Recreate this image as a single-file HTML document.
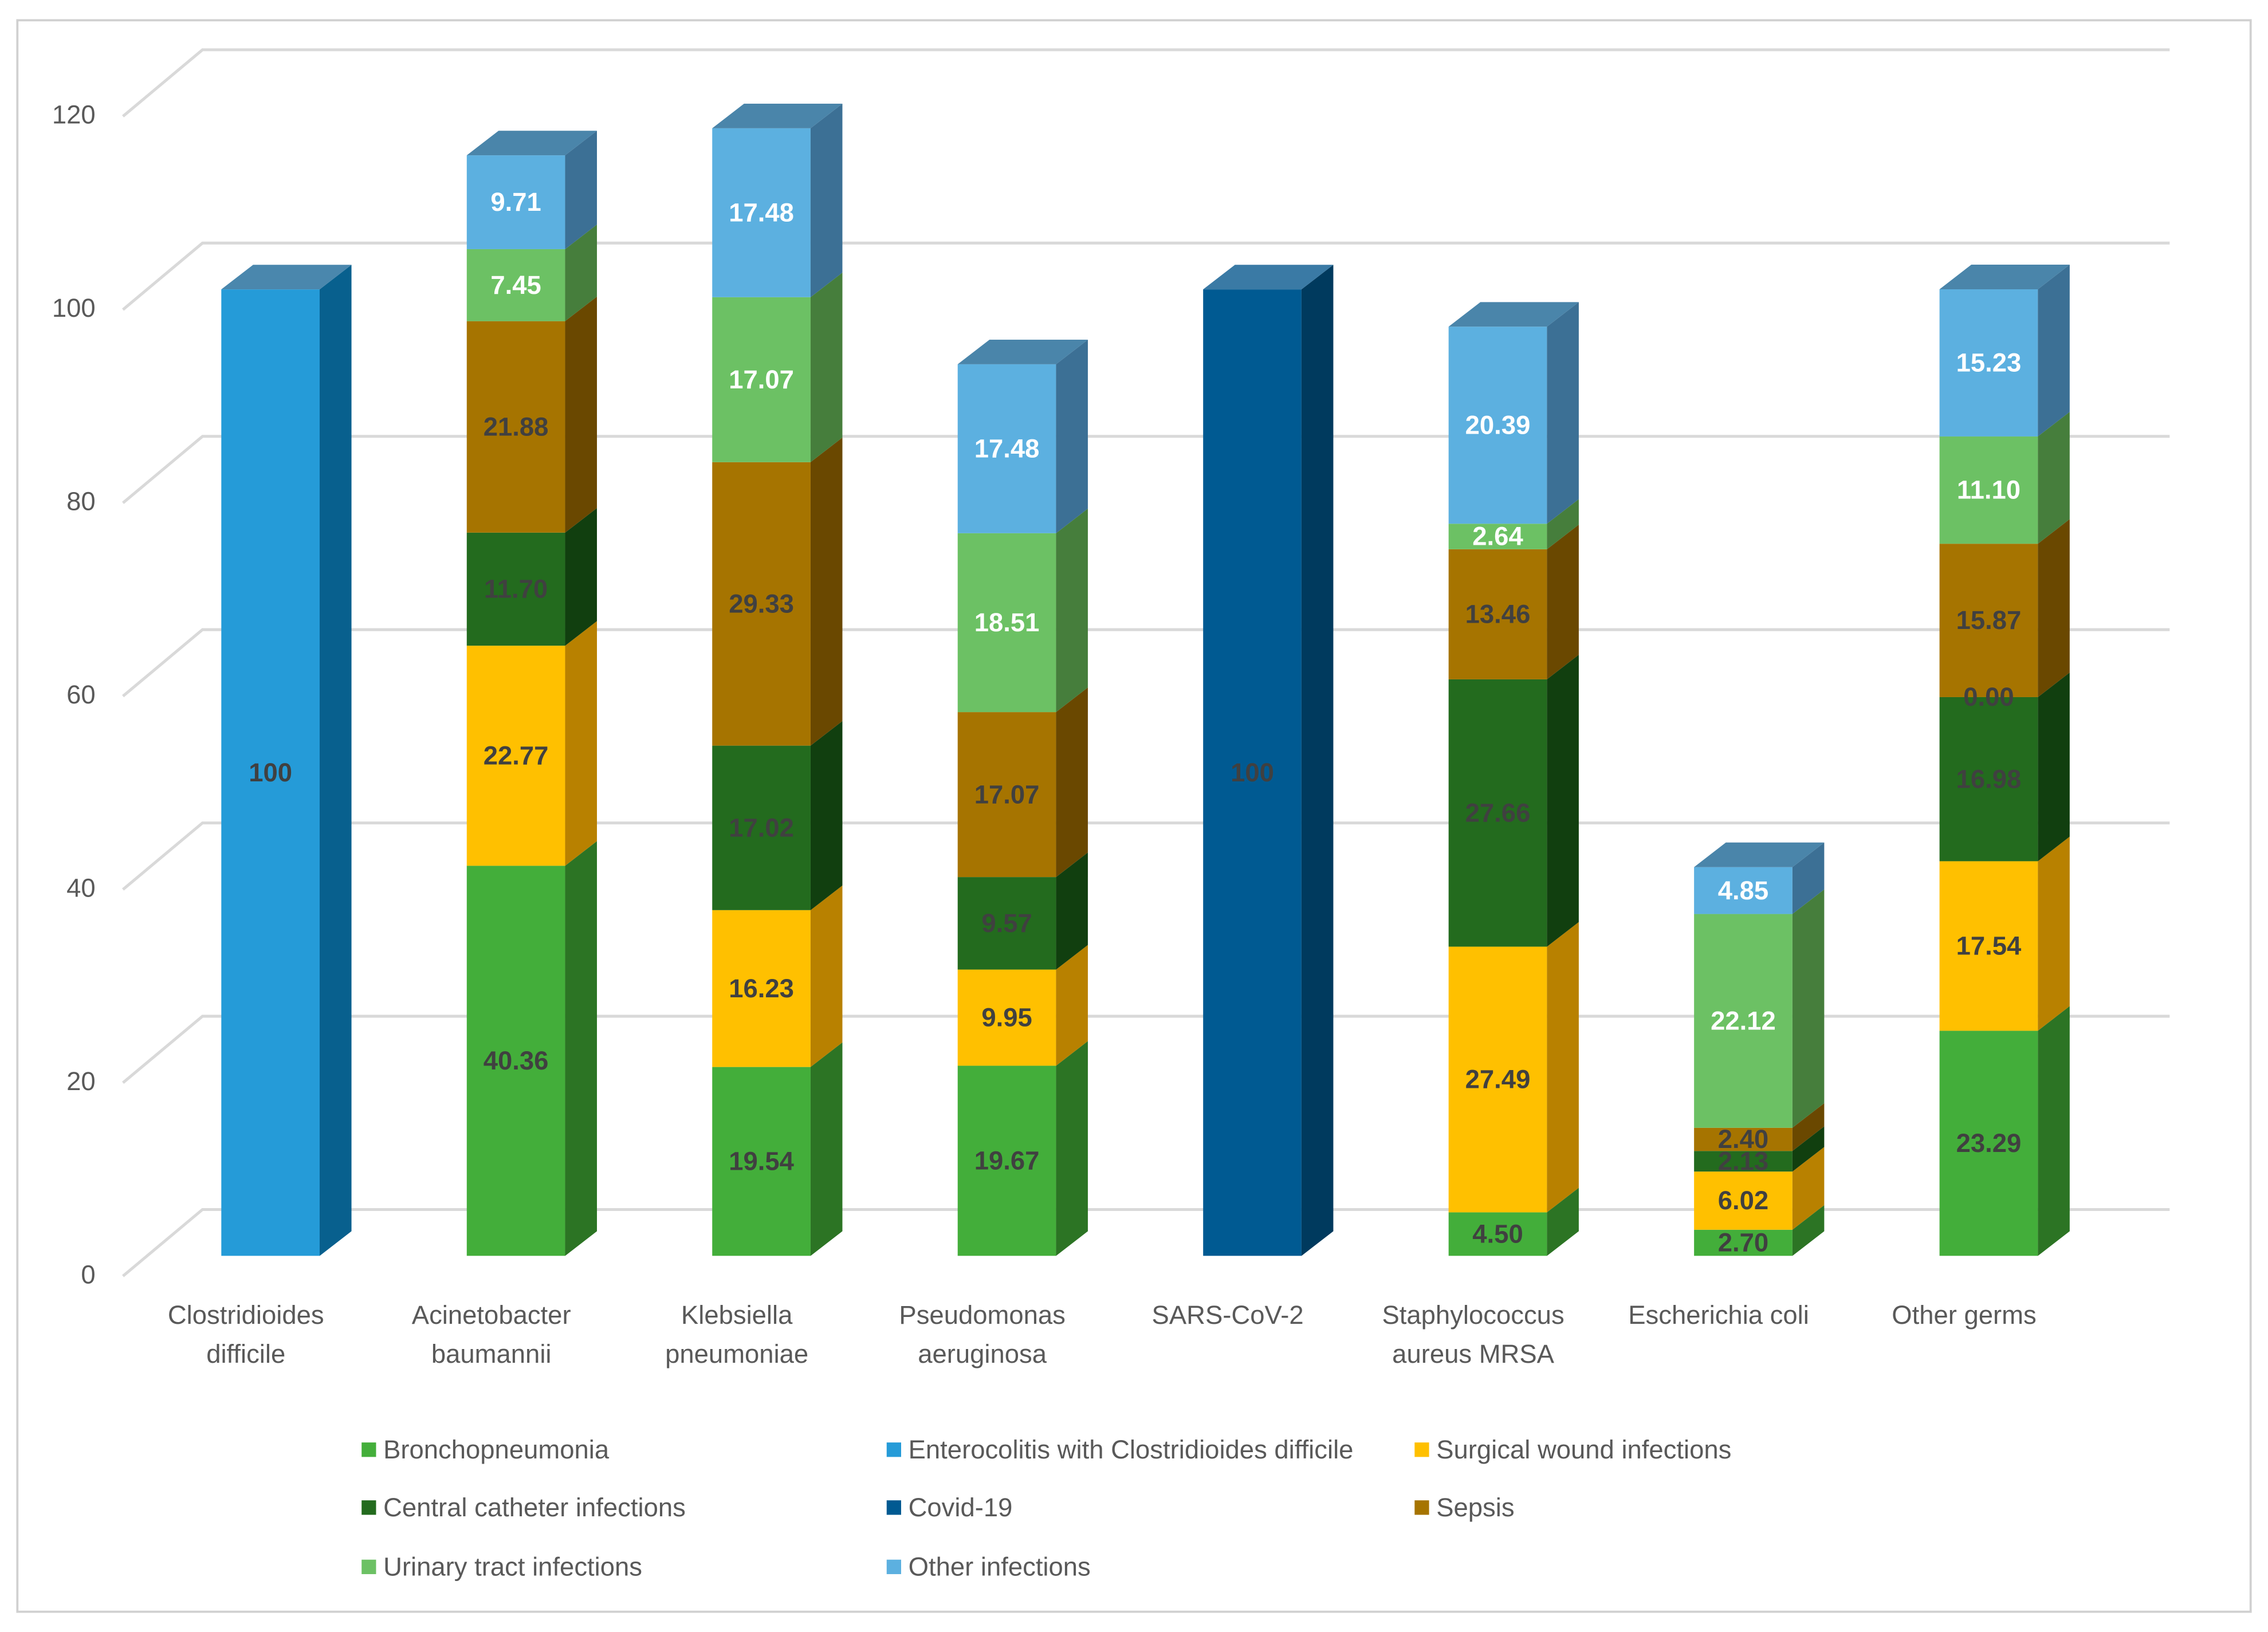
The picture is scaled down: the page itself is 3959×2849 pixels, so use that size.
<!DOCTYPE html>
<html><head><meta charset="utf-8"><style>
html,body{margin:0;padding:0;background:#fff;}
svg{display:block;}
text{font-family:"Liberation Sans",sans-serif;}
</style></head><body>
<svg id="chart" width="3959" height="2849" viewBox="0 0 1568 1128" preserveAspectRatio="none" xmlns="http://www.w3.org/2000/svg">
<rect x="12" y="14" width="1544" height="1100" fill="#fff" stroke="#d0d0d0" stroke-width="1.5"/>
<g id="grid"></g><g id="bars"></g><g id="cats"></g><g id="legend"></g>
</svg>
<script>
const categories = [["Clostridioides","difficile"],["Acinetobacter","baumannii"],["Klebsiella","pneumoniae"],["Pseudomonas","aeruginosa"],["SARS-CoV-2"],["Staphylococcus","aureus MRSA"],["Escherichia coli"],["Other germs"]];
const seriesNames = ["Bronchopneumonia","Enterocolitis with Clostridioides difficile","Surgical wound infections","Central catheter infections","Covid-19","Sepsis","Urinary tract infections","Other infections"];
const bronchopneumonia = [null,40.36,19.54,19.67,null,4.50,2.70,23.29];
const enterocolitis = [100,null,null,null,null,null,null,null];
const surgical = [null,22.77,16.23,9.95,null,27.49,6.02,17.54];
const catheter = [null,11.70,17.02,9.57,null,27.66,2.13,16.98];
const covid = [null,null,null,null,100,null,null,0];
const sepsis = [null,21.88,29.33,17.07,null,13.46,2.40,15.87];
const urinary = [null,7.45,17.07,18.51,null,2.64,22.12,11.10];
const otherInf = [null,9.71,17.48,17.48,null,20.39,4.85,15.23];
const yTicks = [0,20,40,60,80,100,120];

const series=[bronchopneumonia,enterocolitis,surgical,catheter,covid,sepsis,urinary,otherInf];
const front=["#43AE3A","#259BD8","#FFC000","#236B1E","#005A92","#A67400","#6CC164","#5CB0E0"];
const side =["#2C7424","#08608E","#B88100","#113F0F","#003A5E","#6A4800","#467E3C","#3C7095"];
const topc =["#5DAA54","#4A87AD","#CCA030","#2E5A2A","#3A7AA5","#8A6A30","#6AA060","#4A85AA"];
const lblc =["#404040","#404040","#404040","#404040","#404040","#404040","#ffffff","#ffffff"];
const NS="http://www.w3.org/2000/svg";
const base=868, ppu=6.68, dx=22, dy=17, bw=68;
const yF=v=>base-v*ppu;
const xL=i=>153+169.7*i;
function mk(t,a,p){const e=document.createElementNS(NS,t);for(const k in a)e.setAttribute(k,a[k]);p.appendChild(e);return e;}
const grid=document.getElementById('grid');
yTicks.forEach(v=>{
  const yb=836-v*ppu;
  const g=mk('g',{},grid);
  
  
  mk('polyline',{points:`85,${yb+46} 140,${yb} 1500,${yb}`,fill:'none',stroke:'#d9d9d9','stroke-width':2},g);
  const t=mk('text',{x:66,y:yb+51,'text-anchor':'end','font-size':18,fill:'#595959'},g);
  
  
  t.textContent=v;
});
const bars=document.getElementById('bars');
categories.forEach((c,i)=>{
  let cum=0; const x=xL(i);
  const g=mk('g',{},bars);
  
  
  let lastTop=null,lastS=0;
  const labels=[];
  series.forEach((s,si)=>{
    const v=s[i]; if(v===null||v===undefined) return;
    const y0=yF(cum), y1=yF(cum+v); cum+=v;
    if(v>0){
      const r=mk('rect',{x:x,y:y1,width:bw,height:y0-y1,fill:front[si]},g);
      
      
      const sd=mk('polygon',{points:`${x+bw},${y0} ${x+bw+dx},${y0-dy} ${x+bw+dx},${y1-dy} ${x+bw},${y1}`,fill:side[si]},g);
      
      
      lastTop=y1; lastS=si;
    }
    labels.push([x+bw/2,(y0+y1)/2+6,v,si]);
  });
  if(lastTop!==null){
    const tp=mk('polygon',{points:`${x},${lastTop} ${x+dx},${lastTop-dy} ${x+bw+dx},${lastTop-dy} ${x+bw},${lastTop}`,fill:topc[lastS]},g);
    
    
  }
  labels.forEach(([lx,ly,v,si])=>{
    const t=mk('text',{x:lx,y:ly,'text-anchor':'middle','font-size':18,'font-weight':'bold',fill:lblc[si]},g);
    
    
    t.textContent=(v===100)?'100':v.toFixed(2);
  });
  const ct=mk('text',{x:x+17,y:915,'text-anchor':'middle','font-size':18,fill:'#595959'},document.getElementById('cats'));
  
  
  c.forEach((ln,k)=>{const ts=mk('tspan',{x:x+17,dy:k?27:0},ct);ts.textContent=ln;});
});
const leg=document.getElementById('legend');
const lx=[250,613,978], ly=[1002,1042,1083];
seriesNames.forEach((n,si)=>{
  const col=si%3,row=Math.floor(si/3);
  const g=mk('g',{},leg);
  
  
  mk('rect',{x:lx[col],y:ly[row]-5,width:10,height:10,fill:front[si]},g);
  const t=mk('text',{x:lx[col]+15,y:ly[row]+6,'font-size':18,fill:'#595959'},g);
  t.textContent=n;
});
</script>
</body></html>
